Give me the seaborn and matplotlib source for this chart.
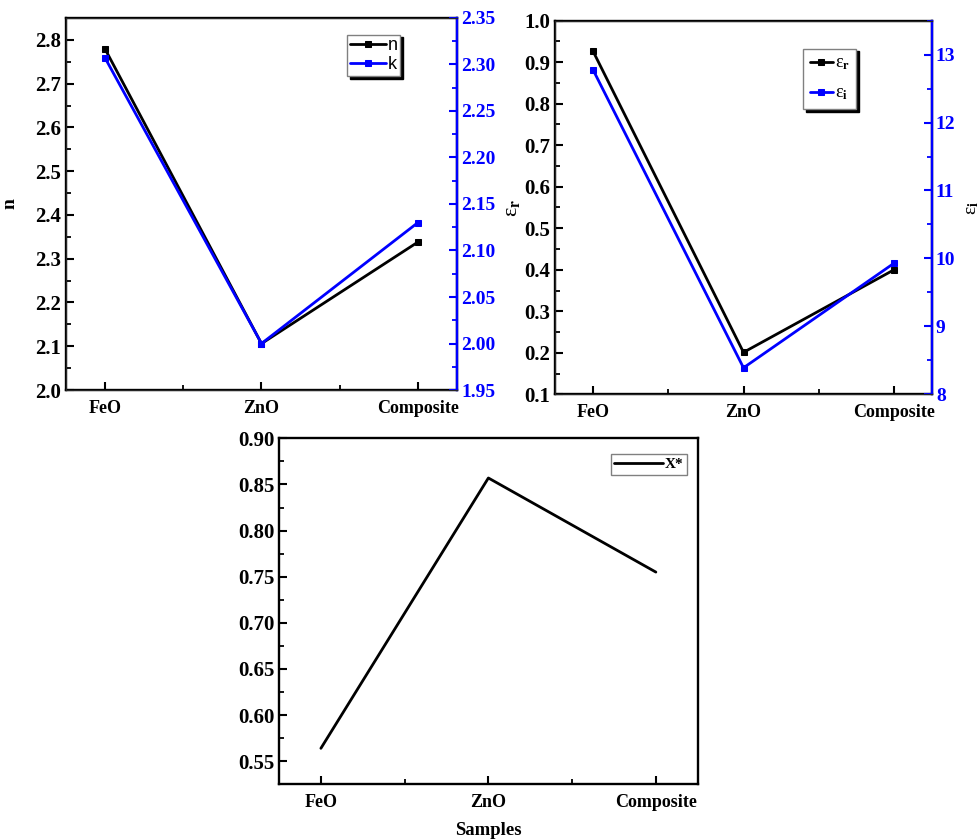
import matplotlib
matplotlib.use("Agg")
import matplotlib.pyplot as plt
import seaborn as sns
import pandas as pd
from matplotlib.ticker import MultipleLocator, FixedLocator, FormatStrFormatter

# ===========================
# Data
# ===========================
samples = ["FeO", "ZnO", "Composite"]
n_vals = [2.779, 2.106, 2.338]
k_vals = [2.307, 2.000, 2.130]
eps_r = [0.927, 0.201, 0.400]
eps_i = [12.78, 8.39, 9.93]
x_star = [0.564, 0.857, 0.755]

sns.set_style("ticks")
plt.rcParams["font.family"] = ["Liberation Serif", "DejaVu Serif"]
plt.rcParams["font.weight"] = "bold"
plt.rcParams["mathtext.fontset"] = "stix"
plt.rcParams["text.color"] = "black"
plt.rcParams["axes.labelcolor"] = "black"

BLUE = "#0000ff"
LW = 2.0
MS = 5
YSIZE = 15
XSIZE = 13

fig = plt.figure(figsize=(9.79, 8.40), dpi=100)


def style_axis(ax):
    ax.tick_params(axis="both", which="major", direction="in", length=6, width=1.5,
                   colors="black")
    ax.tick_params(axis="both", which="minor", direction="in", length=3.5, width=1.3,
                   colors="black")
    ax.tick_params(axis="x", which="major", pad=7)
    for s in ax.spines.values():
        s.set_linewidth(1.7)
        s.set_color("black")
    for lab in ax.get_yticklabels():
        lab.set_fontweight("bold")
        lab.set_fontsize(YSIZE)


def style_right(ax):
    ax.tick_params(axis="y", which="major", direction="in", length=6, width=1.5,
                   colors=BLUE, pad=3)
    ax.tick_params(axis="y", which="minor", direction="in", length=3.5, width=1.3, colors=BLUE)
    ax.spines["right"].set_color(BLUE)
    ax.spines["right"].set_linewidth(1.7)
    for lab in ax.get_yticklabels():
        lab.set_fontweight("bold")
        lab.set_fontsize(14)
        lab.set_color(BLUE)


def set_xcat(ax):
    ax.set_xlim(-0.25, 2.25)
    ax.set_xticks([0, 1, 2])
    ax.set_xticklabels(samples, fontweight="bold", fontsize=XSIZE)
    ax.xaxis.set_minor_locator(FixedLocator([0.5, 1.5]))
    ax.set_xlabel("")


df1 = pd.DataFrame({"x": [0, 1, 2], "n": n_vals, "k": k_vals,
                    "er": eps_r, "ei": eps_i, "xs": x_star})

# ===========================
# Panel 1: n and k
# ===========================
ax1 = fig.add_axes([0.0674, 0.5357, 0.3994, 0.4429])
sns.lineplot(data=df1, x="x", y="n", ax=ax1, color="black", marker="s",
             markersize=MS, linewidth=LW, markeredgecolor="black", label="n", legend=False)
ax1b = ax1.twinx()
sns.lineplot(data=df1, x="x", y="k", ax=ax1b, color=BLUE, marker="s",
             markersize=MS, linewidth=LW, markeredgecolor=BLUE, label="k", legend=False)
ax1.set_ylim(2.0, 2.85)
ax1.yaxis.set_major_locator(MultipleLocator(0.1))
ax1.yaxis.set_minor_locator(MultipleLocator(0.05))
ax1b.set_ylim(1.95, 2.35)
ax1b.yaxis.set_major_locator(MultipleLocator(0.05))
ax1b.yaxis.set_minor_locator(MultipleLocator(0.025))
ax1b.yaxis.set_major_formatter(FormatStrFormatter("%.2f"))
set_xcat(ax1)
style_axis(ax1)
style_right(ax1b)
ax1.set_ylabel("n", fontweight="bold", fontsize=14, labelpad=12)
ax1b.set_ylabel("")
h1, l1 = ax1.get_legend_handles_labels()
h2, l2 = ax1b.get_legend_handles_labels()
leg = ax1b.legend(h1 + h2, l1 + l2, loc="upper right", bbox_to_anchor=(0.855, 0.955),
                  prop={"family": "Liberation Sans", "size": 13, "weight": "normal"},
                  fancybox=False, shadow={"color": "black", "alpha": 1},
                  edgecolor="gray", framealpha=1, handlelength=2.0,
                  handletextpad=0.1, borderpad=0.15, labelspacing=0.1, borderaxespad=0)
leg.get_frame().set_linewidth(1.0)

# ===========================
# Panel 2: eps_r and eps_i
# ===========================
ax2 = fig.add_axes([0.5672, 0.5306, 0.3845, 0.4448])
sns.lineplot(data=df1, x="x", y="er", ax=ax2, color="black", marker="s",
             markersize=MS, linewidth=LW, markeredgecolor="black",
             label="ε$_\\mathrm{r}$", legend=False)
ax2b = ax2.twinx()
sns.lineplot(data=df1, x="x", y="ei", ax=ax2b, color=BLUE, marker="s",
             markersize=MS, linewidth=LW, markeredgecolor=BLUE,
             label="ε$_\\mathrm{i}$", legend=False)
ax2.set_ylim(0.1, 1.0)
ax2.yaxis.set_major_locator(MultipleLocator(0.1))
ax2.yaxis.set_minor_locator(MultipleLocator(0.05))
ax2b.set_ylim(8, 13.5)
ax2b.yaxis.set_major_locator(MultipleLocator(1))
ax2b.yaxis.set_minor_locator(MultipleLocator(0.5))
set_xcat(ax2)
style_axis(ax2)
style_right(ax2b)
ax2.set_ylabel("ε$_\\mathbf{r}$", fontsize=16, fontweight="normal", labelpad=2)
ax2b.set_ylabel("ε$_\\mathrm{i}$", fontsize=14, fontweight="normal", labelpad=6,
                color="black")
h1, l1 = ax2.get_legend_handles_labels()
h2, l2 = ax2b.get_legend_handles_labels()
leg2 = ax2b.legend(h1 + h2, l1 + l2, loc="upper right", bbox_to_anchor=(0.80, 0.925),
                   prop={"size": 13, "weight": "normal"},
                   fancybox=False, shadow={"color": "black", "alpha": 1},
                   edgecolor="gray", framealpha=1, handlelength=1.3,
                   handletextpad=0.1, borderpad=0.35, labelspacing=0.7, borderaxespad=0)
leg2.get_frame().set_linewidth(1.0)

# ===========================
# Panel 3: X*
# ===========================
ax3 = fig.add_axes([0.285, 0.0663, 0.4277, 0.4119])
sns.lineplot(data=df1, x="x", y="xs", ax=ax3, color="black", linewidth=LW,
             label="X*", legend=False)
ax3.set_ylim(0.525, 0.90)
ax3.yaxis.set_major_locator(MultipleLocator(0.05))
ax3.yaxis.set_minor_locator(MultipleLocator(0.025))
ax3.yaxis.set_major_formatter(FormatStrFormatter("%.2f"))
set_xcat(ax3)
style_axis(ax3)
ax3.set_ylabel("")
ax3.set_xlabel("Samples", fontweight="bold", fontsize=13.5, labelpad=8)
leg3 = ax3.legend(loc="upper right", bbox_to_anchor=(0.975, 0.955),
                  prop={"size": 11, "weight": "bold"}, fancybox=False,
                  edgecolor="gray", framealpha=1, handlelength=3.2,
                  handletextpad=0.1, borderpad=0.25, borderaxespad=0)
leg3.get_frame().set_linewidth(1.0)

fig.savefig("out.png", dpi=100)
